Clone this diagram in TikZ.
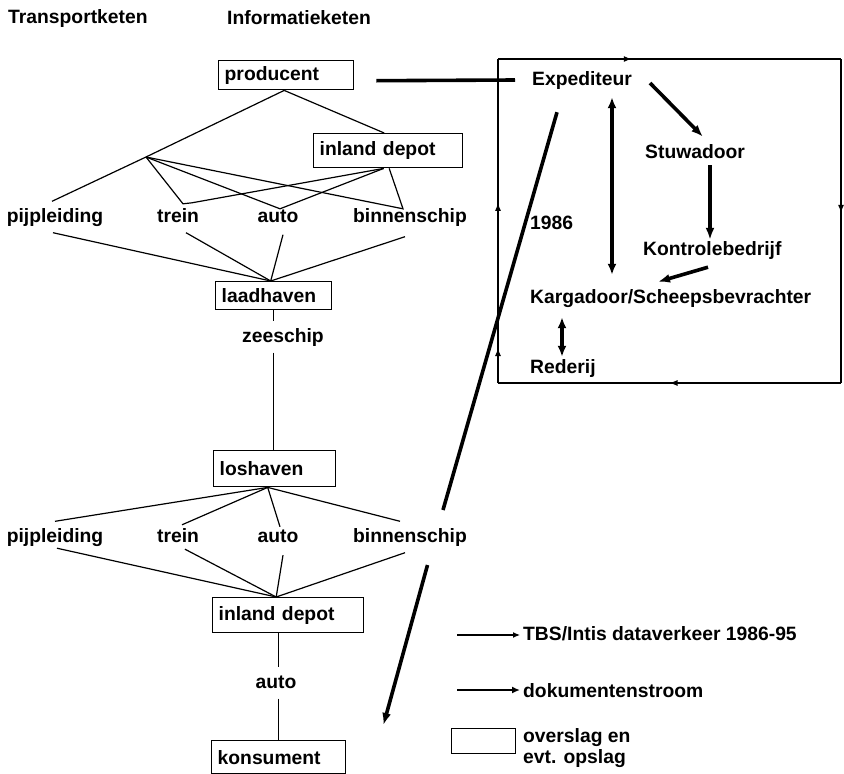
\documentclass[tikz,border=0pt]{standalone}
\usepackage{fontspec}
\setmainfont{Liberation Sans}
\usetikzlibrary{arrows.meta,decorations.markings}
\newcommand{\diagfont}{\fontsize{19.3}{21}\selectfont\bfseries}
\begin{document}
\begin{tikzpicture}[x=1pt,y=-1pt,
  txt/.style={font=\diagfont, inner sep=0pt, text height=14pt, text depth=4pt, anchor=west},
  lbl/.style={font=\diagfont, inner xsep=0pt, inner ysep=6.5pt, text height=14pt, text depth=4pt},
  box/.style={draw, line width=1.4pt, font=\diagfont, anchor=north west, align=left, inner xsep=6pt, inner ysep=0pt},
  thinline/.style={line width=1.2pt},
  docline/.style={line width=3.6pt},
  docarrow/.style={docline, -{Latex[length=12pt,width=9pt]}},
  docboth/.style={docline, {Latex[length=11pt,width=9pt]}-{Latex[length=11pt,width=9pt]}},
  smalltip/.style={-{Latex[length=7pt,width=6pt]}},
  midarr/.style={postaction={decorate}, decoration={markings, mark=at position #1 with {\arrow{Latex[length=8pt,width=6pt]}}}}
]
\useasboundingbox (0,0) rectangle (844,774);

% headers
\node[txt] (h1) at (8,18) {Transportketen};
\node[txt] (h2) at (227,19) {Informatieketen};

% boxes of the transport chain
\node[box, text width=123pt, minimum height=29pt] (prod) at (218,60) {producent};
\node[box, text width=137pt, minimum height=34pt] (idep1) at (313,133) {inland depot};
\node[box, text width=104pt, minimum height=28pt] (laad) at (215,281) {laadhaven};
\node[box, text width=110pt, minimum height=36pt] (los) at (213,450) {loshaven};
\node[box, text width=139pt, minimum height=35pt] (idep2) at (212,597) {inland depot};
\node[box, text width=122pt, minimum height=33pt] (kons) at (211,740) {konsument};

% upper modes
\coordinate (br) at (146,157);
\node[lbl] (pip1) at (55,217) {pijpleiding};
\node[lbl] (tr1) at (178,217) {trein};
\node[lbl] (au1) at (278,217) {auto};
\node[lbl] (bs1) at (410,217) {binnenschip};

\draw[thinline] ([xshift=-2pt]prod.south) -- (br) -- ([xshift=-3pt]pip1.north);
\draw[thinline] ([xshift=-2pt]prod.south) -- ([xshift=-4pt]idep1.north);
\draw[thinline] (br) -- ([xshift=5pt,yshift=-2.5pt]tr1.north) -- ([xshift=14pt,yshift=-1.5pt]tr1.north) -- ([xshift=-4.5pt]idep1.south);
\draw[thinline] (br) -- ([xshift=2pt,yshift=-7.5pt]au1.north) -- ([xshift=-4.5pt]idep1.south);
\draw[thinline] (br) -- ([xshift=-7pt,yshift=-7.5pt]bs1.north) -- ([xshift=1pt]idep1.south);

\draw[thinline] ([xshift=-2pt]pip1.south) -- ([xshift=-3pt]laad.north);
\draw[thinline] ([xshift=8pt]tr1.south) -- ([xshift=-3pt]laad.north);
\draw[thinline] ([xshift=5pt,yshift=-2pt]au1.south) -- ([xshift=-3pt]laad.north);
\draw[thinline] ([xshift=-5pt,yshift=-4pt]bs1.south) -- ([xshift=-3pt]laad.north);

% sea leg
\node[lbl] (zee) at (283,337) {zeeschip};
\draw[thinline] (laad.south) -- (laad.south |- zee.north);
\draw[thinline] (laad.south |- zee.south) -- (laad.south |- los.north);

% lower modes
\node[lbl] (pip2) at (55,537) {pijpleiding};
\node[lbl] (tr2) at (178,537) {trein};
\node[lbl] (au2) at (278,537) {auto};
\node[lbl] (bs2) at (410,537) {binnenschip};

\draw[thinline] ([xshift=-7pt]los.south) -- (pip2.north);
\draw[thinline] ([xshift=-7pt]los.south) -- ([xshift=4pt,yshift=-3.5pt]tr2.north);
\draw[thinline] ([xshift=-7pt]los.south) -- ([xshift=2pt,yshift=-5.5pt]au2.north);
\draw[thinline] ([xshift=-7pt]los.south) -- ([xshift=-10pt]bs2.north);

\draw[thinline] ([xshift=2pt,yshift=4.5pt]pip2.south) -- ([xshift=-12pt]idep2.north);
\draw[thinline] ([xshift=7pt,yshift=3.5pt]tr2.south) -- ([xshift=-12pt]idep2.north);
\draw[thinline] ([xshift=5pt,yshift=-2.5pt]au2.south) -- ([xshift=-12pt]idep2.north);
\draw[thinline] ([xshift=-5pt]bs2.south) -- ([xshift=-12pt]idep2.north);

% last leg
\node[lbl] (au3) at (276,683) {auto};
\draw[thinline] (kons.north |- idep2.south) -- (kons.north |- au3.north);
\draw[thinline] (kons.north |- au3.south) -- (kons.north);

% information chain frame
\coordinate (fnw) at (498,59);
\coordinate (fne) at (841,59);
\coordinate (fse) at (841,383);
\coordinate (fsw) at (498,383);
\draw[thinline, midarr=0.39] (fnw) -- (fne);
\draw[thinline, midarr=0.475] (fne) -- (fse);
\draw[thinline, midarr=0.5] (fse) -- (fsw);
\draw[thinline, postaction={decorate}, decoration={markings,
   mark=at position 0.108 with {\arrow{Latex[length=8pt,width=6pt]}},
   mark=at position 0.556 with {\arrow{Latex[length=8pt,width=6pt]}}}] (fsw) -- (fnw);

% information chain parties
\node[txt] (exped) at (532,80) {Expediteur};
\node[txt] (stuw) at (645,153) {Stuwadoor};
\node[txt] (kont) at (643,250) {Kontrolebedrijf};
\node[txt] (karg) at (530,298) {Kargadoor/Scheepsbevrachter};
\node[txt] (red) at (530,368) {Rederij};
\node[txt] (y86) at (530,224) {1986};

\draw[docline] ([xshift=22pt,yshift=-5.5pt]prod.east) -- ([xshift=-17pt]exped.west);
\draw[docarrow] ([xshift=118pt,yshift=-3pt]exped.west) -- ([xshift=58pt,yshift=7pt]stuw.north west);
\draw[docarrow] ([xshift=65pt,yshift=-3pt]stuw.south west) -- ([xshift=67pt,yshift=1pt]kont.north west);
\draw[docarrow] ([xshift=65pt,yshift=-8pt]kont.south west) -- ([xshift=128pt,yshift=7pt]karg.north west);
\draw[docboth] ([xshift=80pt,yshift=-8pt]exped.south west) -- ([xshift=82pt,yshift=14pt]karg.north west);
\draw[docboth] ([xshift=32pt,yshift=-10pt]karg.south west) -- ([xshift=32pt,yshift=2pt]red.north west);

% document flow to the consumer
\coordinate (d1) at (443,510);
\coordinate (d2) at (427.5,565);
\draw[docline] ([xshift=25pt,yshift=-23pt]exped.south west) -- (d1);
\draw[docarrow] (d2) -- ([xshift=37pt,yshift=15pt]kons.north east);

% legend
\node[txt] (lg1) at (523,635) {TBS/Intis dataverkeer 1986-95};
\coordinate (lg1s) at (457,635);
\draw[thinline, smalltip] (lg1s) -- ([xshift=-3pt]lg1.west);
\node[txt] (lg2) at (523,692) {dokumentenstroom};
\coordinate (lg2s) at (457,690);
\draw[line width=2.6pt, -{Latex[length=8pt,width=7pt]}] (lg2s) -- ([xshift=-3pt,yshift=2pt]lg2.west);
\node[draw, line width=1.4pt, minimum width=64pt, minimum height=25pt, anchor=north west, inner sep=0pt] (lgbox) at (451,728) {};
\node[font=\diagfont, inner sep=0pt, align=left, anchor=north west] (lg3) at (523,728) {overslag en\\evt. opslag};
\end{tikzpicture}
\end{document}
